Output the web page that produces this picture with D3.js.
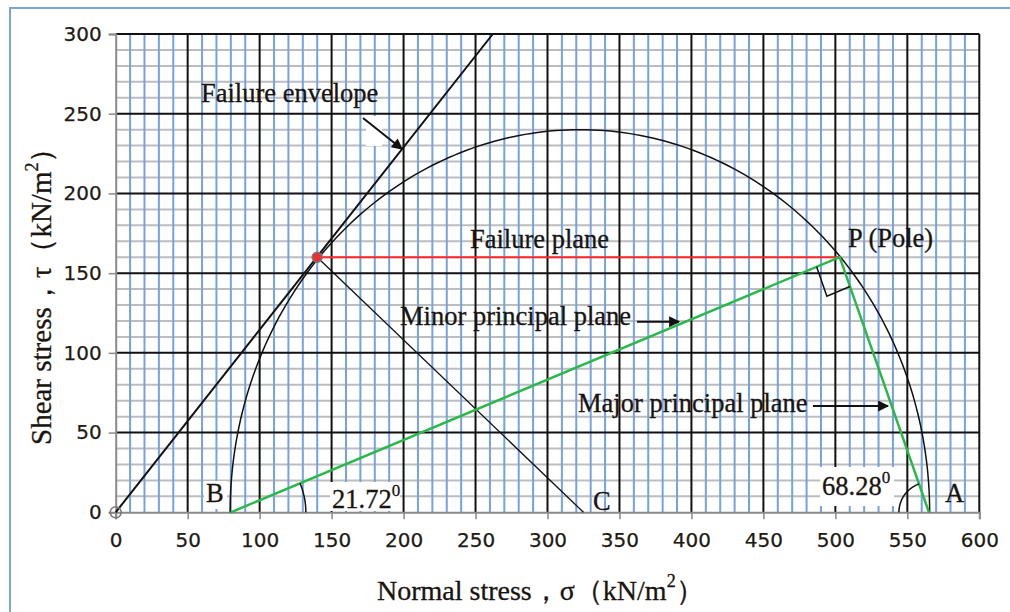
<!DOCTYPE html>
<html><head><meta charset="utf-8">
<script src="https://cdn.jsdelivr.net/npm/d3@7"></script>
<style>body{margin:0;background:#fff;} svg{display:block;}</style>
</head><body>
<svg id="c" width="1010" height="612"></svg>
<script>
// ---- data ----
const xTicks = [0,50,100,150,200,250,300,350,400,450,500,550,600];
const yTicks = [0,50,100,150,200,250,300];
const minorStep = 10;
const envelopeSigma = [0, 262];
const envelopeTau   = [0, 300];
const circleCenter = 322.5;      // sigma of centre C
const circleRadiusSigma = 243;
const circleRadiusTau = 240;
const tangentPoint = [140, 160];
const centerPoint = [325, 0];
const pole = [503, 160];
const pointB = [80, 0];
const pointA = [565, 0];
const origin = [0, 0];
const angleMinor = "21.72";
const angleMajor = "68.28";

// ---- layout ----
const svg = d3.select("#c");
const x = d3.scaleLinear().domain([0,600]).range([115.7, 979.3]);
const y = d3.scaleLinear().domain([0,300]).range([512.3, 34]);
const serif = "'Liberation Serif','Times New Roman',serif";
const sans = "'DejaVu Sans',Verdana,sans-serif";
const ink = "#1a1410";

// outer frame
svg.append("rect").attr("x",10).attr("y",8).attr("width",1100).attr("height",700)
  .attr("fill","none").attr("stroke","#7da3d4").attr("stroke-width",2);

const minorX = d3.range(0, 601, minorStep).filter(v => v % 50 !== 0);
const minorY = d3.range(0, 301, minorStep).filter(v => v % 50 !== 0);
const g = svg.append("g");
g.selectAll(".hm").data(minorY).join("line")
  .attr("x1", x(0)).attr("x2", x(600)).attr("y1", d=>y(d)).attr("y2", d=>y(d))
  .attr("stroke","#bdbdbd").attr("stroke-width",2);
g.selectAll(".vm").data(minorX).join("line")
  .attr("y1", y(0)).attr("y2", y(300)).attr("x1", d=>x(d)).attr("x2", d=>x(d))
  .attr("stroke","#74a2e2").attr("stroke-width",2);
g.selectAll(".hM").data(yTicks.filter(d=>d>0)).join("line")
  .attr("x1", x(0)).attr("x2", x(600)).attr("y1", d=>y(d)).attr("y2", d=>y(d))
  .attr("stroke","#111").attr("stroke-width",2);
g.selectAll(".vM").data(xTicks.filter(d=>d>0)).join("line")
  .attr("y1", y(0)).attr("y2", y(300)).attr("x1", d=>x(d)).attr("x2", d=>x(d))
  .attr("stroke","#111").attr("stroke-width",2);

// axes
const ax = svg.append("g").attr("transform",`translate(0,${y(0)})`)
  .call(d3.axisBottom(x).tickValues(xTicks).tickSize(7).tickPadding(14).tickFormat(d3.format("d")));
const ay = svg.append("g").attr("transform",`translate(${x(0)},0)`)
  .call(d3.axisLeft(y).tickValues(yTicks).tickSize(7).tickPadding(7).tickFormat(d3.format("d")));
[ax, ay].forEach(a => {
  a.select(".domain").attr("stroke","#8a8a8a").attr("stroke-width",2);
  a.selectAll(".tick line").attr("stroke","#8a8a8a").attr("stroke-width",1.5);
  a.selectAll(".tick text").attr("font-family",sans).attr("font-size",20).attr("fill","#1e1a14")
    .attr("stroke","#1e1a14").attr("stroke-width",0.25);
});

// white label backings
const backs = [[330,482,70,29],[820,467,74,39],[204,481,23,28],[366,116,16,30]];
svg.selectAll(".bk").data(backs).join("rect")
  .attr("x",d=>d[0]).attr("y",d=>d[1]).attr("width",d=>d[2]).attr("height",d=>d[3]).attr("fill","#fff");

const line = d3.line().x(d=>x(d[0])).y(d=>y(d[1]));

svg.append("path").attr("d", line(envelopeSigma.map((s,i)=>[s, envelopeTau[i]])))
  .attr("stroke","#111").attr("stroke-width",2).attr("fill","none");

const circPts = d3.range(0, 181, 1).map(a => {
  const t = a*Math.PI/180;
  return [circleCenter + circleRadiusSigma*Math.cos(t), circleRadiusTau*Math.sin(t)];
});
svg.append("path").attr("d", line(circPts))
  .attr("stroke","#111").attr("stroke-width",1.5).attr("fill","none");

svg.append("path").attr("d", line([tangentPoint, centerPoint]))
  .attr("stroke","#111").attr("stroke-width",1.3).attr("fill","none");

svg.append("path").attr("d", line([tangentPoint, pole]))
  .attr("stroke","#ff2a2a").attr("stroke-width",2).attr("fill","none");

svg.append("path").attr("d", line([pointB, pole, pointA]))
  .attr("stroke","#2bb84a").attr("stroke-width",2.5).attr("fill","none");

function arcAt(cx, cy, r, a0, a1) {
  const pts = d3.range(0, 21).map(i => {
    const a = a0 + (a1-a0)*i/20;
    return [cx + r*Math.cos(a), cy - r*Math.sin(a)];
  });
  return d3.line()(pts);
}
const bx = x(pointB[0]), by = y(pointB[1]);
const aMinor = Math.atan2(y(0)-y(pole[1]), x(pole[0])-x(pointB[0]));
svg.append("path").attr("d", arcAt(bx, by, 75, 0, aMinor))
  .attr("stroke","#111").attr("stroke-width",1.5).attr("fill","none");
const axp = x(pointA[0]), ayp = y(pointA[1]);
const aMajor = Math.atan2(y(0)-y(pole[1]), x(pole[0])-x(pointA[0]));
svg.append("path").attr("d", arcAt(axp, ayp, 30, Math.PI, aMajor))
  .attr("stroke","#111").attr("stroke-width",1.5).attr("fill","none");

const px = x(pole[0]), py = y(pole[1]);
function unit(dx, dy){ const l=Math.hypot(dx,dy); return [dx/l, dy/l]; }
const u1 = unit(bx-px, by-py), u2 = unit(axp-px, ayp-py);
const s1 = 25, s2 = 31;
svg.append("path").attr("d", d3.line()([
  [px+s1*u1[0], py+s1*u1[1]],
  [px+s1*u1[0]+s2*u2[0], py+s1*u1[1]+s2*u2[1]],
  [px+s2*u2[0], py+s2*u2[1]]]))
  .attr("stroke","#111").attr("stroke-width",1.5).attr("fill","none");

svg.append("circle").attr("cx", x(tangentPoint[0])).attr("cy", y(tangentPoint[1])).attr("r",5)
  .attr("fill","#f03030").attr("stroke","#777").attr("stroke-width",1.5);
svg.append("circle").attr("cx", x(origin[0])).attr("cy", y(origin[1])).attr("r",5.5)
  .attr("fill","none").attr("stroke","#777").attr("stroke-width",1.5);

const defs = svg.append("defs");
defs.append("marker").attr("id","ah").attr("viewBox","0 0 10 10").attr("refX",9).attr("refY",5)
  .attr("markerWidth",14).attr("markerHeight",11).attr("markerUnits","userSpaceOnUse")
  .attr("orient","auto").append("path").attr("d","M0,0L10,5L0,10z").attr("fill","#111");
const arrows = [[363,118,402,149],[637,321.7,679,321.7],[813,406,888,406]];
svg.selectAll(".ar").data(arrows).join("line")
  .attr("x1",d=>d[0]).attr("y1",d=>d[1]).attr("x2",d=>d[2]).attr("y2",d=>d[3])
  .attr("stroke","#111").attr("stroke-width",2).attr("marker-end","url(#ah)");

const labels = [
  ["Failure envelope", 201, 102],
  ["Failure plane", 470, 247.5],
  ["P (Pole)", 848, 247],
  ["Minor principal plane", 400, 325],
  ["Major principal plane", 578, 411.5],
  ["B", 206, 502],
  ["C", 593, 510],
  ["A", 945, 502]
];
svg.selectAll(".lb").data(labels).join("text")
  .attr("x",d=>d[1]).attr("y",d=>d[2]).text(d=>d[0])
  .attr("font-family",serif).attr("font-size",26.5).attr("fill",ink)
  .attr("stroke",ink).attr("stroke-width",0.3);

function angleLabel(txt, lx, ly) {
  const t = svg.append("text").attr("x",lx).attr("y",ly)
    .attr("font-family",serif).attr("font-size",26.5).attr("fill",ink)
    .attr("stroke",ink).attr("stroke-width",0.3);
  t.append("tspan").text(txt);
  t.append("tspan").attr("dy",-12).attr("font-size",17).text("0");
}
angleLabel(angleMinor, 332, 508);
angleLabel(angleMajor, 822, 495);

const xt = svg.append("text").attr("x",377).attr("y",600)
  .attr("font-family",serif).attr("font-size",28).attr("fill",ink)
  .attr("stroke",ink).attr("stroke-width",0.3);
xt.append("tspan").text("Normal stress，σ（kN/m");
xt.append("tspan").attr("dy",-13).attr("font-size",18).text("2");
xt.append("tspan").attr("dy",13).text("）");

const yt = svg.append("text").attr("transform","translate(51,445) rotate(-90)")
  .attr("font-family",serif).attr("font-size",29).attr("fill",ink)
  .attr("stroke",ink).attr("stroke-width",0.3);
yt.append("tspan").text("Shear stress，τ（kN/m");
yt.append("tspan").attr("dy",-13).attr("font-size",18).text("2");
yt.append("tspan").attr("dy",13).text("）");
</script>
</body></html>
